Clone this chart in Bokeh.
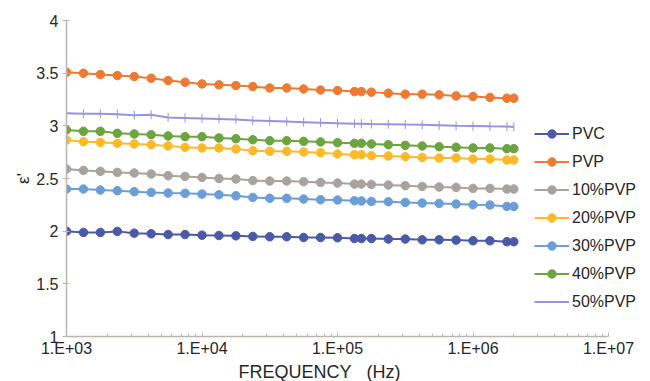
from bokeh.plotting import figure
from bokeh.models import FixedTicker, Legend, LegendItem, Range1d, Title
from bokeh.embed import file_html
from bokeh.resources import INLINE

# Measurement frequencies (Hz)
freq = [1000, 1334, 1778, 2371, 3162, 4217, 5623, 7499, 10000, 13335, 17783,
        23714, 31623, 42170, 56234, 74989, 100000, 133352, 150000, 177828,
        237137, 316228, 421697, 562341, 749894, 1000000, 1333521, 1778279,
        2000000]

# Dielectric constant for each blend
pvc = [2.00, 1.988, 1.988, 1.998, 1.981, 1.975, 1.968, 1.968, 1.962, 1.959,
       1.956, 1.950, 1.947, 1.947, 1.940, 1.940, 1.937, 1.930, 1.930, 1.930,
       1.925, 1.925, 1.918, 1.918, 1.915, 1.909, 1.909, 1.900, 1.900]
pvp = [3.509, 3.499, 3.487, 3.477, 3.468, 3.452, 3.430, 3.414, 3.398, 3.389,
       3.382, 3.373, 3.360, 3.360, 3.350, 3.340, 3.335, 3.325, 3.325, 3.320,
       3.310, 3.300, 3.300, 3.294, 3.284, 3.278, 3.270, 3.262, 3.262]
pvp10 = [2.590, 2.577, 2.568, 2.558, 2.552, 2.543, 2.527, 2.520, 2.510, 2.500,
         2.495, 2.480, 2.476, 2.476, 2.470, 2.463, 2.457, 2.447, 2.447, 2.444,
         2.438, 2.432, 2.425, 2.419, 2.415, 2.406, 2.406, 2.400, 2.400]
pvp20 = [2.866, 2.850, 2.843, 2.834, 2.828, 2.821, 2.809, 2.796, 2.790, 2.790,
         2.780, 2.764, 2.758, 2.758, 2.752, 2.745, 2.733, 2.726, 2.726, 2.717,
         2.714, 2.707, 2.700, 2.695, 2.695, 2.685, 2.685, 2.676, 2.676]
pvp30 = [2.400, 2.400, 2.390, 2.384, 2.375, 2.368, 2.362, 2.359, 2.352, 2.346,
         2.336, 2.320, 2.312, 2.312, 2.305, 2.298, 2.296, 2.289, 2.287, 2.282,
         2.279, 2.273, 2.267, 2.263, 2.258, 2.251, 2.248, 2.235, 2.235]
pvp40 = [2.961, 2.948, 2.948, 2.929, 2.923, 2.916, 2.904, 2.897, 2.897, 2.885,
         2.878, 2.868, 2.859, 2.859, 2.853, 2.847, 2.840, 2.834, 2.834, 2.828,
         2.821, 2.815, 2.809, 2.802, 2.796, 2.790, 2.790, 2.783, 2.783]
pvp50 = [3.120, 3.115, 3.115, 3.110, 3.100, 3.105, 3.080, 3.075, 3.070, 3.065,
         3.060, 3.050, 3.045, 3.040, 3.035, 3.030, 3.025, 3.020, 3.020, 3.017,
         3.015, 3.012, 3.010, 3.005, 3.000, 2.998, 2.995, 2.993, 2.990]

names = ["PVC", "PVP", "10%PVP", "20%PVP", "30%PVP", "40%PVP", "50%PVP"]
series = [pvc, pvp, pvp10, pvp20, pvp30, pvp40, pvp50]
colors = ["#4a5aa6", "#ec7a32", "#aaa29c", "#fdb92a", "#6a9ed6", "#6ca43f", "#9494dc"]
markers = ["circle"] * 6 + ["cross"]

x_ticks = [1e3, 1e4, 1e5, 1e6, 1e7]
x_tick_labels = ["1.E+03", "1.E+04", "1.E+05", "1.E+06", "1.E+07"]
y_ticks = [1, 1.5, 2, 2.5, 3, 3.5, 4]

FONT = "Liberation Sans"
AXIS_COLOR = "#bcb5ad"
TEXT_COLOR = "#262626"

# The frame runs a little past 1E+7 so the legend has room on the right;
# the x axis itself is bounded to 1E+3 .. 1E+7.
p = figure(width=650, height=381, x_axis_type="log",
           x_range=Range1d(1e3, 2.04e7), y_range=Range1d(1, 4),
           output_backend="svg", toolbar_location=None,
           min_border_left=66, min_border_right=0,
           min_border_top=20, min_border_bottom=0)

p.outline_line_color = None
p.grid.visible = False
p.background_fill_color = "white"

minor = [m * 10 ** d for d in range(3, 7) for m in range(2, 10)]
p.xaxis.ticker = FixedTicker(ticks=x_ticks, minor_ticks=minor)
p.xaxis.bounds = (1e3, 1e7)
p.xaxis.major_label_overrides = {t: lab for t, lab in zip(x_ticks, x_tick_labels)}
p.yaxis.ticker = FixedTicker(ticks=y_ticks)
p.yaxis.major_label_overrides = {1: "1", 1.5: "1.5", 2: "2", 2.5: "2.5",
                                 3: "3", 3.5: "3.5", 4: "4"}

for ax in (p.xaxis[0], p.yaxis[0]):
    ax.axis_line_color = AXIS_COLOR
    ax.axis_line_width = 1.5
    ax.major_tick_line_color = AXIS_COLOR
    ax.minor_tick_line_color = AXIS_COLOR
    ax.major_label_text_font = FONT
    ax.major_label_text_font_size = "16px"
    ax.major_label_text_color = TEXT_COLOR
    ax.axis_label_text_font = FONT
    ax.axis_label_text_font_size = "17px"
    ax.axis_label_text_font_style = "normal"
    ax.axis_label_text_color = TEXT_COLOR

p.xaxis.major_tick_in = 4
p.xaxis.major_tick_out = 0
p.xaxis.minor_tick_in = 3
p.xaxis.minor_tick_out = 0
p.xaxis.major_label_standoff = 3

p.yaxis.major_tick_in = 3
p.yaxis.major_tick_out = 4
p.yaxis.minor_tick_line_color = None
p.yaxis.major_label_standoff = 4
p.yaxis.axis_label = "ε'"
p.yaxis.axis_label_standoff = 0

# x-axis title, centred under the 1E+3 .. 1E+7 span rather than the frame
x_title = Title(text="FREQUENCY\u00a0\u00a0\u00a0(Hz)", align="left", offset=172,
                text_font=FONT, text_font_size="18px", text_font_style="normal",
                text_color=TEXT_COLOR, standoff=0)
p.add_layout(x_title, "below")

items = []
for name, ys, col, mk in zip(names, series, colors, markers):
    ln = p.line(freq, ys, line_color=col, line_width=2)
    if mk == "circle":
        sc = p.scatter(freq, ys, marker="circle", size=8.5,
                       fill_color=col, line_color=col)
    else:
        sc = p.scatter(freq, ys, marker="dash", angle=1.5708, size=9,
                       line_color=col, line_width=1)
    items.append(LegendItem(label=name, renderers=[ln, sc]))

legend = Legend(items=items, location=(468, 24),
                border_line_color=None, background_fill_alpha=0,
                padding=0, margin=0, spacing=7,
                glyph_width=35, glyph_height=21, label_height=21,
                label_standoff=3,
                label_text_font=FONT, label_text_font_size="16px",
                label_text_color=TEXT_COLOR)
p.add_layout(legend)

open("out.html", "w").write(file_html(p, INLINE))
